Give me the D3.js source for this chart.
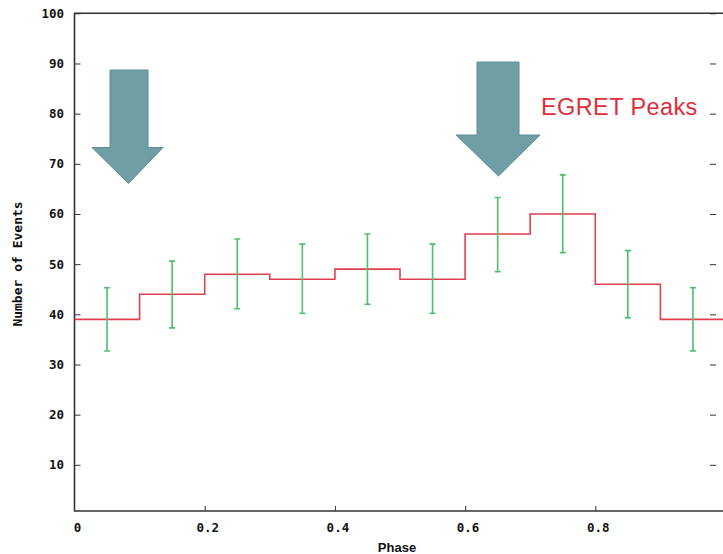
<!DOCTYPE html>
<html>
<head>
<meta charset="utf-8">
<script src="https://cdn.jsdelivr.net/npm/d3@7"></script>
<style>
  html, body { margin: 0; padding: 0; background: #ffffff; }
  svg { display: block; }
  .tick-label { font-family: "DejaVu Sans Mono", monospace; font-weight: bold; font-size: 12.5px; fill: #111; }
</style>
</head>
<body>
<div id="chart"></div>
<script>
// phase bins (left edges), counts and error bar ends
const binStart = [0, 0.1, 0.2, 0.3, 0.4, 0.5, 0.6, 0.7, 0.8, 0.9];
const binWidth = 0.1;
const counts   = [39, 44, 48, 47, 49, 47, 56, 60, 46, 39];
const errLow   = [32.7, 37.3, 41.1, 40.2, 42.0, 40.2, 48.5, 52.3, 39.3, 32.7];
const errHigh  = [45.3, 50.6, 55.0, 54.0, 56.0, 54.0, 63.3, 67.8, 52.7, 45.3];
const xTicks = [0, 0.2, 0.4, 0.6, 0.8];
const yTicks = [10, 20, 30, 40, 50, 60, 70, 80, 90, 100];

const width = 723, height = 554;
const plotL = 74.5, plotR = 725.5, plotT = 13.3, plotB = 511;

const x = d3.scaleLinear().domain([0, 1]).range([plotL, plotR]);
const y = d3.scaleLinear().domain([0.8, 100]).range([plotB, plotT]);

const svg = d3.select("#chart").append("svg")
  .attr("width", width)
  .attr("height", height);

// frame
svg.append("path")
  .attr("d", `M${plotR},${plotT}H${plotL}V${plotB}H${plotR}`)
  .attr("fill", "none")
  .attr("stroke", "#333")
  .attr("stroke-width", 1.6);

// left axis ticks (inward)
svg.append("g")
  .attr("transform", `translate(${plotL},0)`)
  .call(d3.axisRight(y).tickValues(yTicks).tickSize(6).tickFormat(""))
  .call(g => g.select(".domain").remove())
  .call(g => g.selectAll("line").attr("stroke", "#333"));

// right mirror ticks
svg.append("g")
  .attr("transform", `translate(716,0)`)
  .call(d3.axisLeft(y).tickValues(yTicks).tickSize(6).tickFormat(""))
  .call(g => g.select(".domain").remove())
  .call(g => g.selectAll("line").attr("stroke", "#333"));

// bottom ticks (inward)
svg.append("g")
  .attr("transform", `translate(0,${plotB})`)
  .call(d3.axisTop(x).tickValues(xTicks.slice(1)).tickSize(5).tickFormat(""))
  .call(g => g.select(".domain").remove())
  .call(g => g.selectAll("line").attr("stroke", "#333"));

// y tick labels
svg.append("g").selectAll("text")
  .data(yTicks)
  .join("text")
  .attr("class", "tick-label")
  .attr("x", 64)
  .attr("y", d => y(d))
  .attr("dy", "0.35em")
  .attr("text-anchor", "end")
  .text(d => d);

// x tick labels
svg.append("g").selectAll("text")
  .data(xTicks)
  .join("text")
  .attr("class", "tick-label")
  .attr("x", d => x(d) + 3)
  .attr("y", 527.5)
  .attr("dy", "0.35em")
  .attr("text-anchor", "middle")
  .text(d => d === 0 ? "0" : d3.format(".1f")(d));

// axis titles
svg.append("text")
  .attr("transform", "translate(22,264) rotate(-90)")
  .attr("text-anchor", "middle")
  .style("font-family", "'DejaVu Sans Mono', monospace")
  .style("font-weight", "bold")
  .style("font-size", "13px")
  .style("fill", "#111")
  .text("Number of Events");

svg.append("text")
  .attr("x", 397)
  .attr("y", 552)
  .attr("text-anchor", "middle")
  .style("font-family", "'Liberation Sans', Arial, sans-serif")
  .style("font-weight", "bold")
  .style("font-size", "13px")
  .style("fill", "#111")
  .text("Phase");

// clip to plot area
svg.append("clipPath").attr("id", "plot-clip")
  .append("rect")
  .attr("x", plotL).attr("y", plotT)
  .attr("width", plotR - plotL).attr("height", plotB - plotT);

const plot = svg.append("g").attr("clip-path", "url(#plot-clip)");

// histogram step line
const stepPts = binStart.map((b, i) => [b, counts[i]]);
stepPts.push([binStart[binStart.length - 1] + binWidth, counts[counts.length - 1]]);
const line = d3.line()
  .x(d => x(d[0]))
  .y(d => y(d[1]))
  .curve(d3.curveStepAfter);

plot.append("path")
  .attr("d", line(stepPts))
  .attr("fill", "none")
  .attr("stroke", "#e0404c")
  .attr("stroke-width", 1.6);

// error bars
const err = plot.append("g")
  .attr("stroke", "#4cbf6c")
  .attr("stroke-width", 1.6);

binStart.forEach((b, i) => {
  const cx = x(b + binWidth / 2);
  err.append("line")
    .attr("x1", cx).attr("x2", cx)
    .attr("y1", y(errLow[i])).attr("y2", y(errHigh[i]));
  [errLow[i], errHigh[i]].forEach(v => {
    err.append("line")
      .attr("x1", cx - 3).attr("x2", cx + 3)
      .attr("y1", y(v)).attr("y2", y(v));
  });
});

// annotation arrows (block arrows)
function blockArrow(shaftL, shaftR, topY, headL, headR, headY, tipX, tipY) {
  return `M${shaftL},${topY}H${shaftR}V${headY}H${headR}L${tipX},${tipY}L${headL},${headY}H${shaftL}Z`;
}
svg.append("path")
  .attr("d", blockArrow(110, 148, 70, 92, 163, 147.5, 128.5, 183.5))
  .attr("fill", "#6f9ea5")
  .attr("stroke", "#5f8e95")
  .attr("stroke-width", 1);

svg.append("path")
  .attr("d", blockArrow(477, 519, 62, 456, 540, 135, 498.5, 176))
  .attr("fill", "#6f9ea5")
  .attr("stroke", "#5f8e95")
  .attr("stroke-width", 1);

svg.append("text")
  .attr("x", 541)
  .attr("y", 115)
  .style("font-family", "'Liberation Sans', Arial, sans-serif")
  .style("font-size", "23.5px")
  .style("letter-spacing", "0.4px")
  .style("fill", "#dd2f3c")
  .text("EGRET Peaks");
</script>
</body>
</html>
